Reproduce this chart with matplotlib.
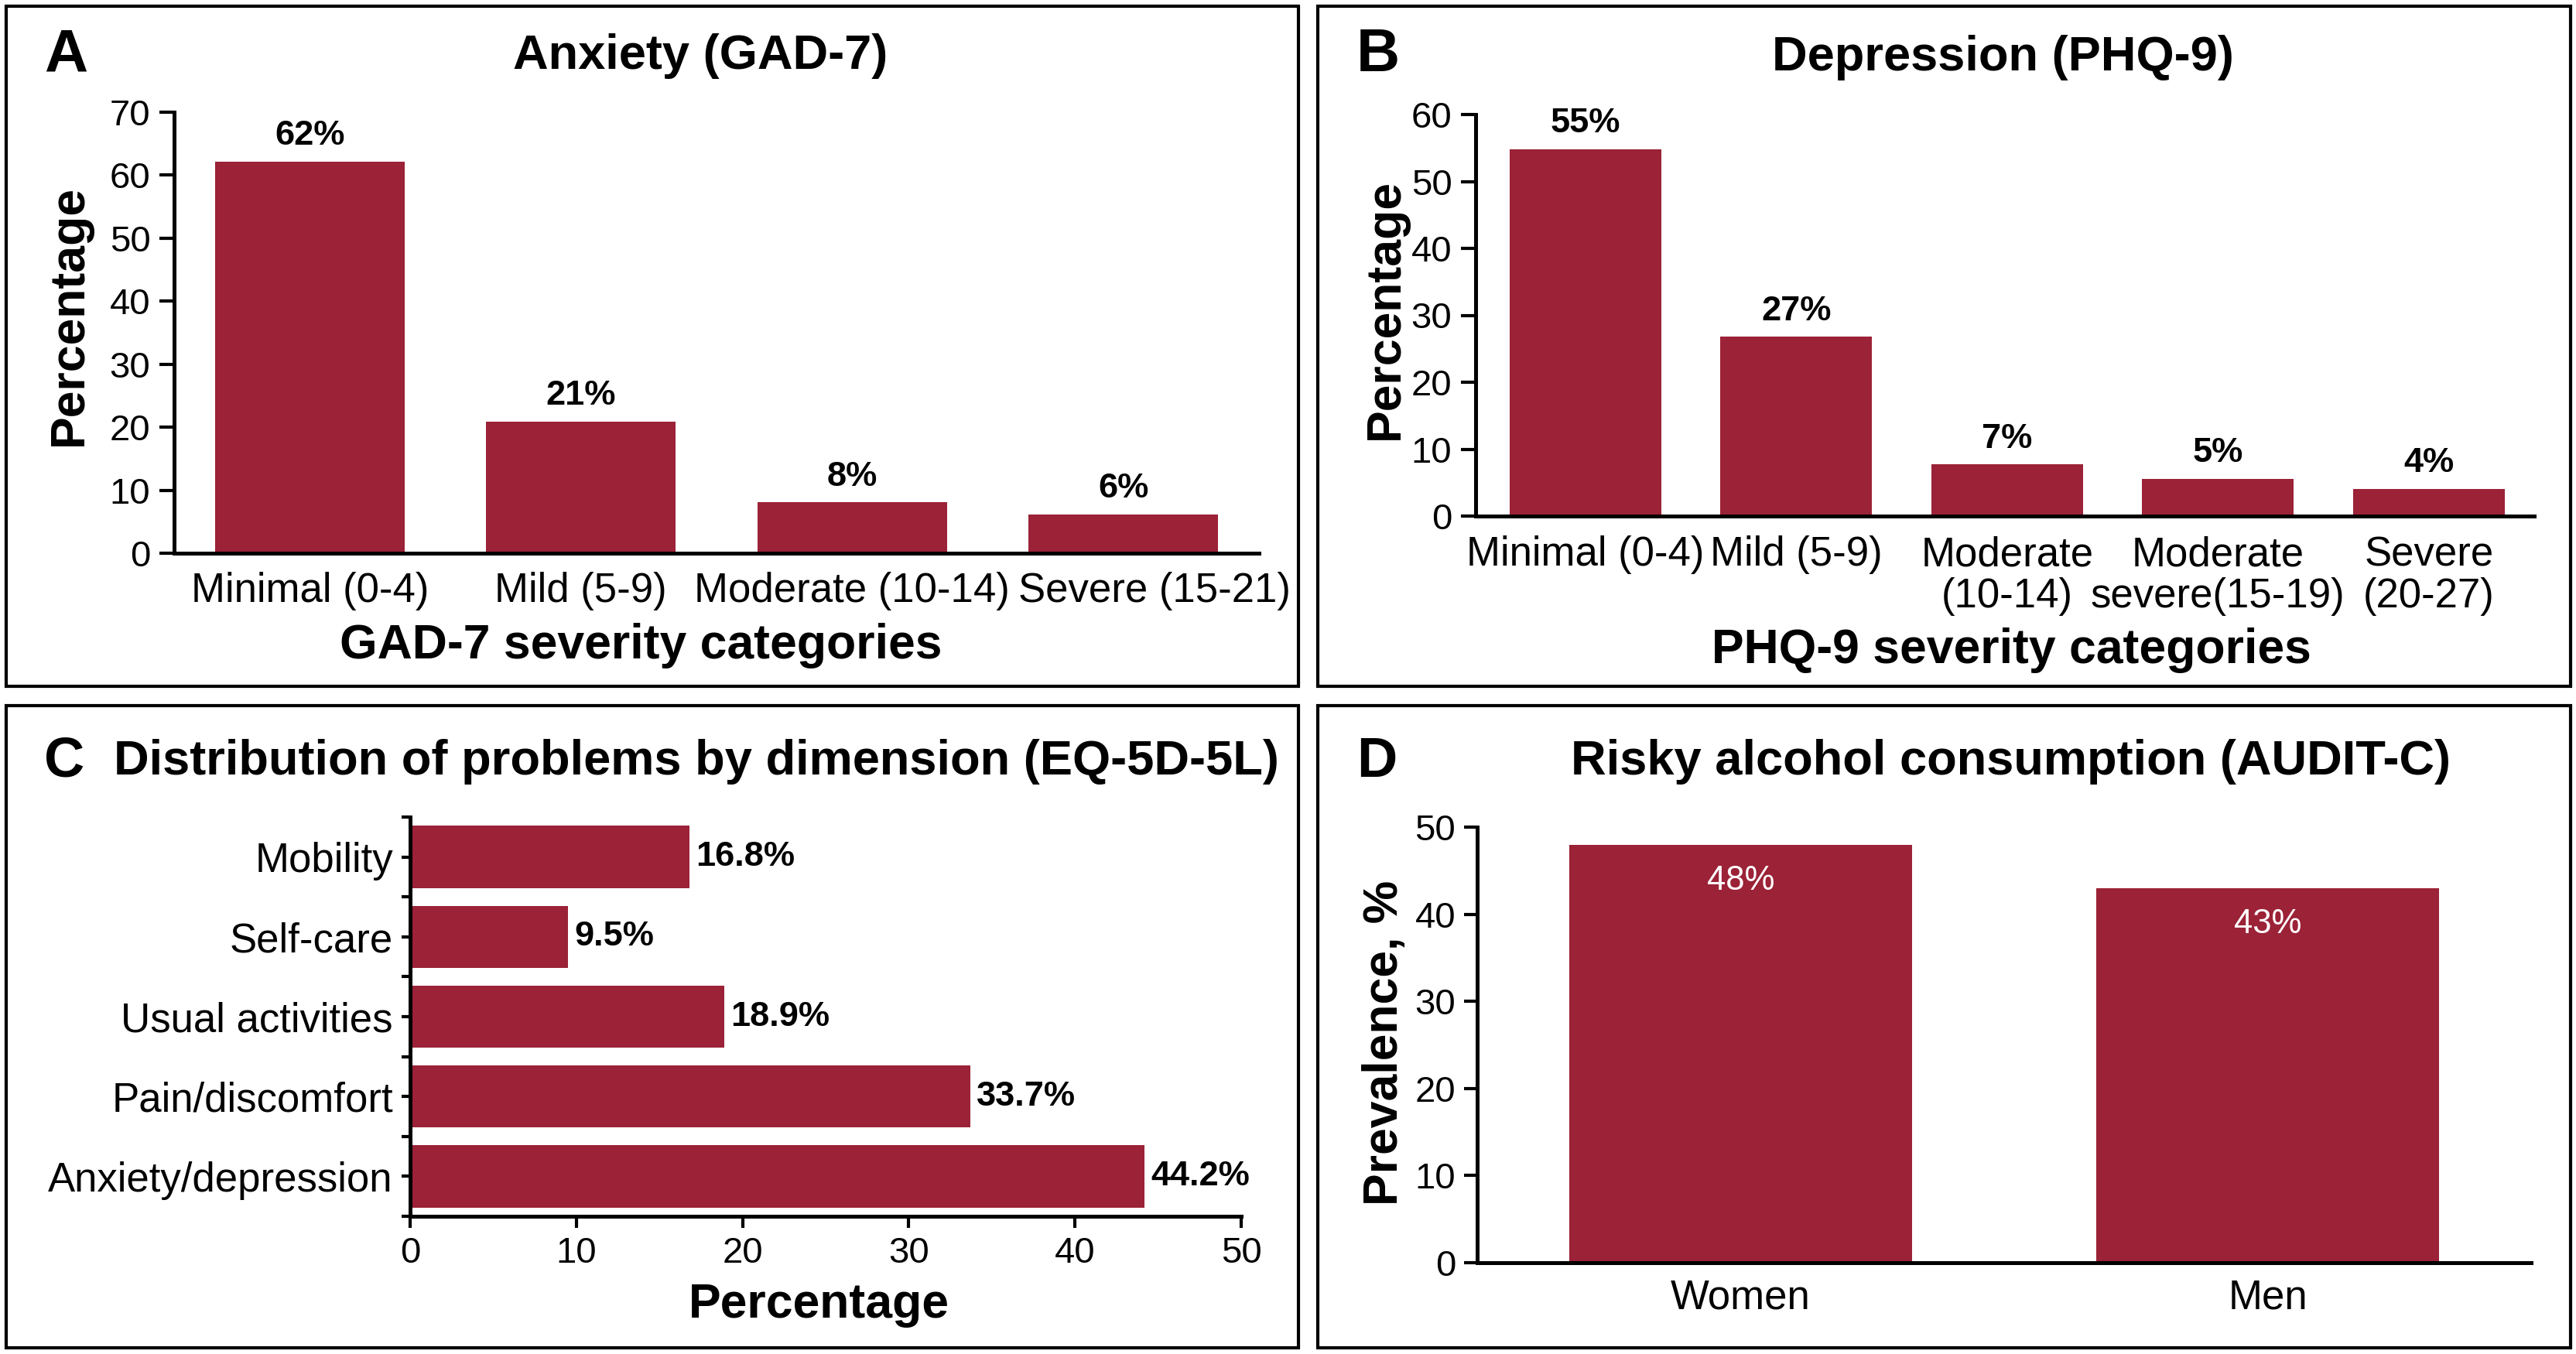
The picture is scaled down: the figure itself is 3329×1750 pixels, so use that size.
import matplotlib
matplotlib.use("Agg")
import matplotlib.pyplot as plt
from matplotlib import font_manager
from matplotlib.patches import Rectangle
from matplotlib.transforms import ScaledTranslation

# data
gad_labels = ['Minimal (0-4)', 'Mild (5-9)', 'Moderate (10-14)', 'Severe (15-21)']
gad_values = [62.2, 20.9, 8.1, 6.2]
gad_text = ['62%', '21%', '8%', '6%']

phq_labels = ['Minimal (0-4)', 'Mild (5-9)', 'Moderate\n(10-14)',
              'Moderate\nsevere(15-19)', 'Severe\n(20-27)']
phq_values = [54.8, 26.8, 7.7, 5.6, 4.1]
phq_text = ['55%', '27%', '7%', '5%', '4%']

eq_labels = ['Mobility', 'Self-care', 'Usual activities', 'Pain/discomfort', 'Anxiety/depression']
eq_values = [16.8, 9.5, 18.9, 33.7, 44.2]
eq_text = ['16.8%', '9.5%', '18.9%', '33.7%', '44.2%']

audit_labels = ['Women', 'Men']
audit_values = [48, 43]
audit_text = ['48%', '43%']

BAR = '#9b2237'

# fonts (no condensed face installed, so sizes are matched on width)
names = {f.name for f in font_manager.fontManager.ttflist}
REG = 'Liberation Sans' if 'Liberation Sans' in names else 'DejaVu Sans'
plt.rcParams['font.family'] = REG

NUM = 34      # numeric tick labels
CAT = 38      # category tick labels
VAL = 32.5    # value labels
TITLE = 45.5
LABEL = 45

W, H = 3329, 1750
fig = plt.figure(figsize=(W / 100, H / 100), dpi=100)


def fx(x):
    return x / W


def fy(y):
    return 1 - y / H


def ax_at(left, top, right, bottom):
    return fig.add_axes([fx(left), fy(bottom), (right - left) / W, (bottom - top) / H])


def style(ax, ticklen=14):
    for s in ['top', 'right']:
        ax.spines[s].set_visible(False)
    for s in ['left', 'bottom']:
        ax.spines[s].set_linewidth(3.6)
    ax.tick_params(width=3, length=ticklen, labelsize=CAT, pad=8)


# panel frames
for (x0, y0, x1, y1) in [(8, 8, 1678, 887), (1703, 8, 3322, 887),
                         (8, 912, 1678, 1742), (1703, 912, 3322, 1742)]:
    fig.add_artist(Rectangle((fx(x0), fy(y1)), (x1 - x0) / W, (y1 - y0) / H,
                             transform=fig.transFigure, fill=False, lw=3, ec='black'))

# ---- A
ax = ax_at(225, 145, 1627, 715)
bars = ax.bar(range(len(gad_values)), gad_values, width=0.7, color=BAR)
ax.bar_label(bars, labels=gad_text, padding=9, fontsize=VAL, fontweight='bold')
ax.set_xlim(-0.5, 3.5)
ax.set_ylim(0, 70)
ax.set_yticks(range(0, 71, 10))
style(ax)
ax.set_xticks(range(len(gad_labels)))
ax.set_xticklabels(gad_labels)
ax.tick_params(axis='x', length=0, pad=17)
ax.tick_params(axis='y', labelsize=NUM)
# last label sits a bit to the right in the reference
last = ax.get_xticklabels()[-1]
last.set_transform(last.get_transform() + ScaledTranslation(0.4, 0, fig.dpi_scale_trans))

# ---- B
ax = ax_at(1907, 148, 3275, 667)
bars = ax.bar(range(len(phq_values)), phq_values, width=0.72, color=BAR)
ax.bar_label(bars, labels=phq_text, padding=9, fontsize=VAL, fontweight='bold')
ax.set_xlim(-0.52, 4.5)
ax.set_ylim(0, 60)
ax.set_yticks(range(0, 61, 10))
style(ax)
ax.set_xticks(range(len(phq_labels)))
ax.set_xticklabels(phq_labels, linespacing=1.1, va='top')
ax.tick_params(axis='x', length=0, pad=18)
ax.tick_params(axis='y', labelsize=NUM)

# ---- C
ax = ax_at(530, 1056, 1604, 1572)
ypos = range(len(eq_values))
bars = ax.barh(ypos, eq_values, height=0.78, color=BAR)
ax.bar_label(bars, labels=eq_text, padding=6, fontsize=VAL, fontweight='bold')
ax.set_ylim(4.5, -0.5)
ax.set_xlim(0, 50)
ax.set_xticks(range(0, 51, 10))
style(ax, ticklen=11)
ax.tick_params(axis='x', labelsize=NUM)
ax.set_yticks(list(ypos))
ax.set_yticklabels(eq_labels)
ax.set_yticks([i - 0.5 for i in range(len(eq_values) + 1)], minor=True)
ax.tick_params(axis='y', which='both', length=8, width=3)

# ---- D
ax = ax_at(1909, 1069, 3271, 1632)
bars = ax.bar(range(len(audit_values)), audit_values, width=0.65, color=BAR)
for i, v in enumerate(audit_values):
    ax.annotate(audit_text[i], (i, v), xytext=(0, -26), textcoords='offset pixels',
                ha='center', va='top', color='white', fontsize=31.5)
ax.set_xlim(-0.5, 1.5)
ax.set_ylim(0, 50)
ax.set_yticks(range(0, 51, 10))
style(ax, ticklen=12)
ax.set_xticks(range(len(audit_labels)))
ax.set_xticklabels(audit_labels)
ax.tick_params(axis='x', length=0, pad=15)
ax.tick_params(axis='y', labelsize=NUM)


# ---- titles, letters, axis labels
def ftext(x, y, s, **kw):
    fig.text(fx(x), fy(y), s, **kw)


ftext(905, 72, 'Anxiety (GAD-7)', ha='center', va='center', fontsize=TITLE, fontweight='bold')
ftext(2588, 74, 'Depression (PHQ-9)', ha='center', va='center', fontsize=TITLE, fontweight='bold')
ftext(900, 985, 'Distribution of problems by dimension (EQ-5D-5L)', ha='center', va='center',
      fontsize=TITLE, fontweight='bold')
ftext(2599, 985, 'Risky alcohol consumption (AUDIT-C)', ha='center', va='center',
      fontsize=TITLE, fontweight='bold')

ftext(57, 72, 'A', ha='left', va='center', fontsize=56, fontweight='bold')
ftext(1753, 72, 'B', ha='left', va='center', fontsize=56, fontweight='bold')
ftext(57, 985, 'C', ha='left', va='center', fontsize=52, fontweight='bold')
ftext(1753, 985, 'D', ha='left', va='center', fontsize=52, fontweight='bold')

ftext(89, 408, 'Percentage', rotation=90, ha='center', va='center', fontsize=LABEL, fontweight='bold')
ftext(1790, 399, 'Percentage', rotation=90, ha='center', va='center', fontsize=LABEL, fontweight='bold')
ftext(1790, 1348, 'Prevalence, %', rotation=90, ha='center', va='center', fontsize=LABEL, fontweight='bold')

ftext(828, 834, 'GAD-7 severity categories', ha='center', va='center', fontsize=LABEL, fontweight='bold')
ftext(2599, 840, 'PHQ-9 severity categories', ha='center', va='center', fontsize=LABEL, fontweight='bold')
ftext(1058, 1686, 'Percentage', ha='center', va='center', fontsize=LABEL, fontweight='bold')

fig.savefig('out.png', dpi=100, facecolor='white')
